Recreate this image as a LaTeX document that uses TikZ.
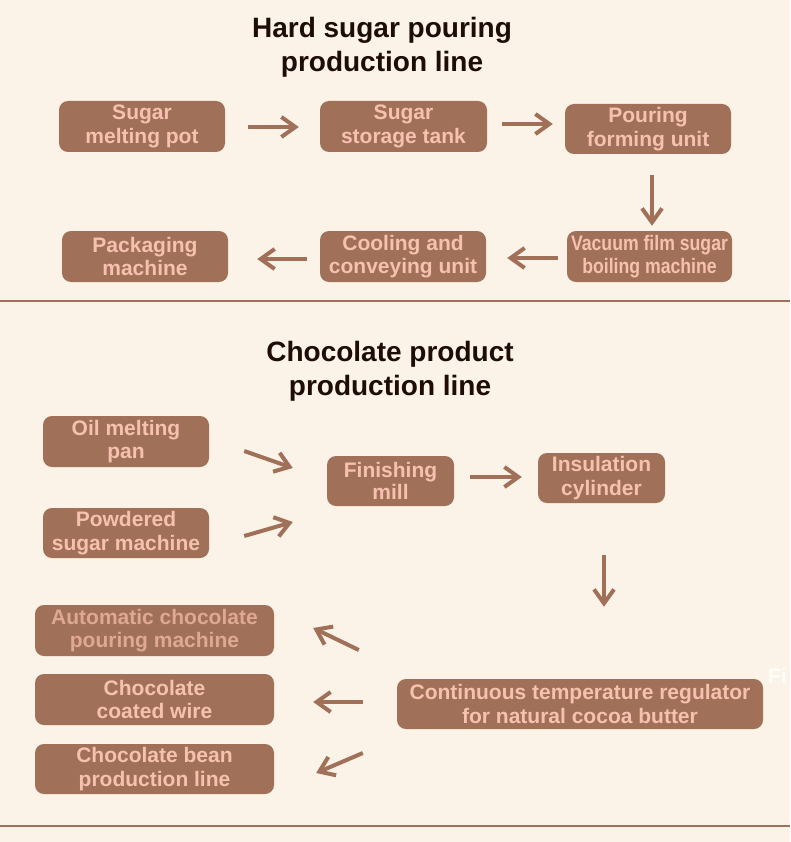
\documentclass[tikz,border=0pt]{standalone}
\usepackage{fontspec}
\setmainfont{Liberation Sans}
\usetikzlibrary{arrows.meta}
\definecolor{bgc}{HTML}{FBF3E8}
\definecolor{boxc}{HTML}{A17058}
\definecolor{txtc}{HTML}{F6C1AF}
\definecolor{txtd}{HTML}{DEA893}
\definecolor{ttlc}{HTML}{1E0D06}
\newcommand{\cond}[1]{\scalebox{0.84}[1]{#1}}
\begin{document}
\begin{tikzpicture}[x=1pt,y=-1pt,
  stepbox/.style={fill=boxc, rounded corners=9pt, text=txtc,
    font=\bfseries\fontsize{21}{23.5}\selectfont, align=center,
    inner sep=0pt, minimum height=51pt},
  arr/.style={draw=boxc, line width=4pt, -{Straight Barb[length=14pt,width=20pt]}},
  ttl/.style={text=ttlc, font=\bfseries\fontsize{28}{34}\selectfont, align=center, inner sep=0pt},
  sepline/.style={draw=boxc, line width=2.5pt}]
\fill[bgc] (0,0) rectangle (790,842);
\useasboundingbox (0,0) rectangle (790,842);

% titles
\node[ttl] (t1) at (382,47.75) {Hard sugar pouring\\production line};
\node[ttl] (t2) at (390,371.75) {Chocolate product\\production line};

% section 1
\node[stepbox, minimum width=166pt] (smp) at (142,126.5) {Sugar\\melting pot};
\node[stepbox, minimum width=167pt] (sst) at (403.5,126.5) {Sugar\\storage tank};
\node[stepbox, minimum width=166pt, minimum height=50pt] (pfu) at (648,129) {Pouring\\forming unit};
\node[stepbox, minimum width=166pt] (pkg) at (145,256.5) {Packaging\\machine};
\node[stepbox, minimum width=166pt] (cool) at (403,256.5) {Cooling and\\conveying unit};
\node[stepbox, minimum width=165pt, font=\bfseries\fontsize{21}{23}\selectfont] (vac) at (649.5,256.5) {\cond{Vacuum film sugar}\\\cond{boiling machine}};

\draw[arr] ([shift={(23,0.5)}]smp.east) -- ([shift={(-21,0.5)}]sst.west);
\draw[arr] ([shift={(15,-2.5)}]sst.east) -- ([shift={(-12,-5)}]pfu.west);
\draw[arr] ([shift={(4,21)}]pfu.south) -- ([shift={(2.5,-5)}]vac.north);
\draw[arr] ([shift={(-9,1.5)}]vac.west) -- ([shift={(21,1.5)}]cool.east);
\draw[arr] ([shift={(-13,2.5)}]cool.west) -- ([shift={(29,2.5)}]pkg.east);

\draw[sepline] (0,301) -- (790,301);

% section 2
\node[stepbox, minimum width=166pt] (oil) at (126,441.5) {Oil melting\\pan};
\node[stepbox, minimum width=166pt, minimum height=50pt] (pow) at (126,533) {Powdered\\sugar machine};
\node[stepbox, minimum width=127pt, minimum height=50pt, font=\bfseries\fontsize{21}{22}\selectfont] (fin) at (390.5,481) {Finishing\\mill};
\node[stepbox, minimum width=127pt, minimum height=50pt] (ins) at (601.5,478) {Insulation\\cylinder};
\node[stepbox, minimum width=366pt, minimum height=50pt] (ctr) at (580,704) {Continuous temperature regulator\\for natural cocoa butter};
\node[stepbox, minimum width=239pt, text=txtd] (auto) at (154.5,630.5) {Automatic chocolate\\pouring machine};
\node[stepbox, minimum width=239pt] (wire) at (154.5,699.5) {Chocolate\\coated wire};
\node[stepbox, minimum width=239pt, minimum height=50pt] (bean) at (154.5,769) {Chocolate bean\\production line};

\draw[arr] ([shift={(35,9.5)}]oil.east) -- ([shift={(-34,-13)}]fin.west);
\draw[arr] ([shift={(35,3)}]pow.east) -- ([shift={(-34,41)}]fin.west);
\draw[arr] ([shift={(16,-4)}]fin.east) -- ([shift={(-16,-1)}]ins.west);
\draw[arr] ([shift={(2.5,52)}]ins.south) -- ([shift={(24,-72)}]ctr.north);
\draw[arr] ([shift={(-38,-54)}]ctr.west) -- ([shift={(39,-2.5)}]auto.east);
\draw[arr] ([shift={(-34,-2)}]ctr.west) -- ([shift={(39,2.5)}]wire.east);
\draw[arr] ([shift={(-34,49)}]ctr.west) -- ([shift={(42,4)}]bean.east);

\node[anchor=base west, inner sep=0pt, text=white, opacity=0.85,
  font=\bfseries\fontsize{21}{23}\selectfont] (fi) at (768,683) {Fi};

\draw[sepline] (0,826) -- (790,826);
\end{tikzpicture}
\end{document}
